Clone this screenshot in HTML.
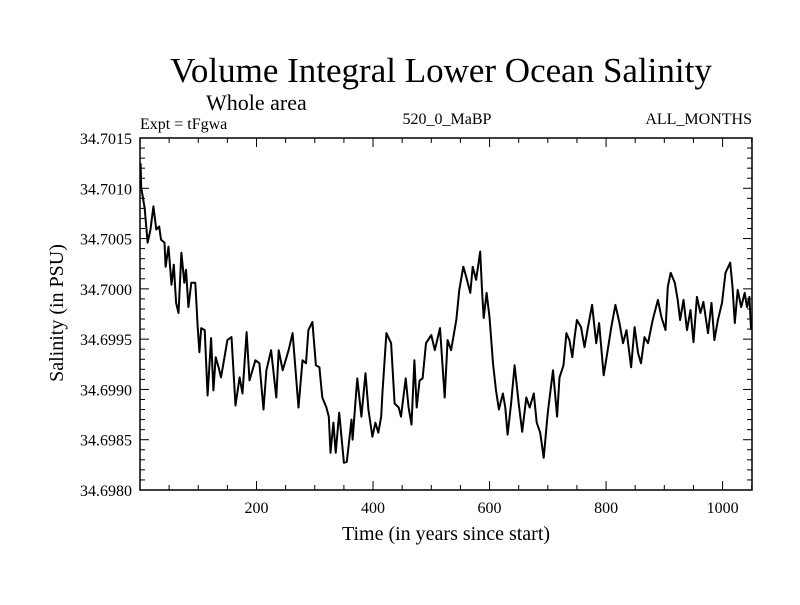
<!DOCTYPE html>
<html><head><meta charset="utf-8"><style>
body{margin:0;background:#fff;}
svg text{font-family:"Liberation Serif",serif;fill:#000;}
</style></head><body>
<svg id="chart" width="800" height="600" xmlns="http://www.w3.org/2000/svg">
<rect x="0" y="0" width="800" height="600" fill="#fff"/>
<text x="441" y="82" font-size="35" text-anchor="middle">Volume Integral Lower Ocean Salinity</text>
<text x="206" y="110" font-size="22">Whole area</text>
<text x="140" y="129" font-size="16">Expt = tFgwa</text>
<text x="447" y="124" font-size="16" text-anchor="middle">520_0_MaBP</text>
<text x="752" y="124" font-size="16" text-anchor="end">ALL_MONTHS</text>
<text transform="translate(63,313) rotate(-90)" font-size="20" text-anchor="middle">Salinity (in PSU)</text>
<text x="446" y="540" font-size="20" text-anchor="middle">Time (in years since start)</text>
<g id="axes"></g>
<g id="series"></g>
<rect x="140" y="138" width="612" height="352" fill="none" stroke="#000" stroke-width="1.5"/>
</svg>
<script>
const years=[1,2,8,13,18,23,28,33,36,42,44,49,54,58,62,66,71,76,79,83,88,95,99,102,105,111,116,122,126,130,135,139,145,150,157,164,171,176,183,188,198,205,212,217,225,234,238,245,255,262,272,279,285,289,296,302,308,313,320,324,327,332,336,342,350,355,363,365,371,373,380,387,392,399,404,409,414,416,423,431,437,444,448,456,461,466,471,475,480,485,491,500,506,515,523,528,534,543,548,555,560,567,571,577,584,587,590,595,600,606,611,616,623,627,631,637,643,650,656,663,669,676,681,687,693,700,709,716,720,727,732,737,742,746,750,757,763,769,776,783,788,796,801,809,816,823,829,835,843,849,855,860,866,872,880,889,895,902,906,911,918,923,927,933,939,945,950,956,962,967,975,981,986,992,999,1005,1013,1017,1021,1026,1032,1038,1042,1046,1049];
const salinity=[34.70125,34.70101,34.70080,34.70046,34.70059,34.70082,34.70059,34.70062,34.70049,34.70046,34.70022,34.70042,34.70004,34.70024,34.69986,34.69976,34.70036,34.70006,34.70019,34.69982,34.70006,34.70006,34.69962,34.69937,34.69961,34.69959,34.69894,34.69951,34.69899,34.69932,34.69922,34.69912,34.69932,34.69949,34.69952,34.69884,34.69912,34.69896,34.69957,34.69909,34.69929,34.69926,34.69880,34.69919,34.69939,34.69892,34.69939,34.69919,34.69939,34.69956,34.69882,34.69929,34.69926,34.69959,34.69967,34.69924,34.69922,34.69892,34.69882,34.69873,34.69837,34.69867,34.69837,34.69877,34.69827,34.69828,34.69870,34.69850,34.69896,34.69911,34.69873,34.69916,34.69880,34.69853,34.69867,34.69857,34.69873,34.69896,34.69956,34.69946,34.69886,34.69882,34.69873,34.69911,34.69882,34.69865,34.69929,34.69882,34.69909,34.69911,34.69946,34.69954,34.69939,34.69961,34.69892,34.69949,34.69939,34.69969,34.69999,34.70022,34.70012,34.69996,34.70022,34.70009,34.70037,34.69999,34.69971,34.69996,34.69972,34.69926,34.69899,34.69880,34.69896,34.69882,34.69855,34.69886,34.69924,34.69886,34.69858,34.69892,34.69882,34.69896,34.69867,34.69857,34.69832,34.69877,34.69919,34.69873,34.69912,34.69924,34.69956,34.69949,34.69932,34.69952,34.69969,34.69962,34.69942,34.69962,34.69984,34.69946,34.69966,34.69914,34.69932,34.69962,34.69984,34.69966,34.69946,34.69959,34.69922,34.69962,34.69936,34.69926,34.69952,34.69946,34.69969,34.69989,34.69972,34.69959,34.70002,34.70016,34.70006,34.69989,34.69969,34.69989,34.69959,34.69979,34.69947,34.69992,34.69976,34.69987,34.69956,34.69986,34.69949,34.69969,34.69986,34.70016,34.70026,34.70002,34.69966,34.69999,34.69982,34.69996,34.69982,34.69992,34.69959];
const xTickLabels=[200,400,600,800,1000];
const yTickLabels=["34.6980","34.6985","34.6990","34.6995","34.7000","34.7005","34.7010","34.7015"];
const X0=140,X1=752,Y0=138,Y1=490;
const xMin=0,xMax=1050.5,yMin=34.698,yMax=34.7015;
const xs=v=>X0+(v-xMin)/(xMax-xMin)*(X1-X0);
const ys=v=>Y1-(v-yMin)/(yMax-yMin)*(Y1-Y0);
const NS='http://www.w3.org/2000/svg';
const axes=document.getElementById('axes');
function ln(x1,y1,x2,y2,w){const l=document.createElementNS(NS,'line');l.setAttribute('x1',x1);l.setAttribute('y1',y1);l.setAttribute('x2',x2);l.setAttribute('y2',y2);l.setAttribute('stroke','#000');l.setAttribute('stroke-width',w);axes.appendChild(l);return l;}
for(let v=50;v<xMax;v+=50){const x=xs(v);const L=(v%200===0)?9:5;
 const a=ln(x,Y1,x,Y1-L,1);
 const b=ln(x,Y0,x,Y0+L,1);}
for(let i=0;i<=35;i++){const v=yMin+i*0.0001;const y=ys(v);const L=(i%5===0)?9:5;
 const a=ln(X0,y,X0+L,y,1);
 const b=ln(X1,y,X1-L,y,1);}
xTickLabels.forEach(v=>{const t=document.createElementNS(NS,'text');t.setAttribute('x',xs(v));t.setAttribute('y',513);t.setAttribute('font-size','16');t.setAttribute('text-anchor','middle');t.textContent=v;


axes.appendChild(t);});
yTickLabels.forEach(s=>{const t=document.createElementNS(NS,'text');t.setAttribute('x',132);t.setAttribute('y',ys(parseFloat(s))+6);t.setAttribute('font-size','16');t.setAttribute('text-anchor','end');t.textContent=s;


axes.appendChild(t);});
const p=document.createElementNS(NS,'path');
p.setAttribute('d',years.map((v,i)=>(i?'L':'M')+xs(v).toFixed(1)+' '+ys(salinity[i]).toFixed(1)).join(''));
p.setAttribute('fill','none');p.setAttribute('stroke','#000');p.setAttribute('stroke-width','2');p.setAttribute('stroke-linejoin','round');


document.getElementById('series').appendChild(p);
</script>
</body></html>
